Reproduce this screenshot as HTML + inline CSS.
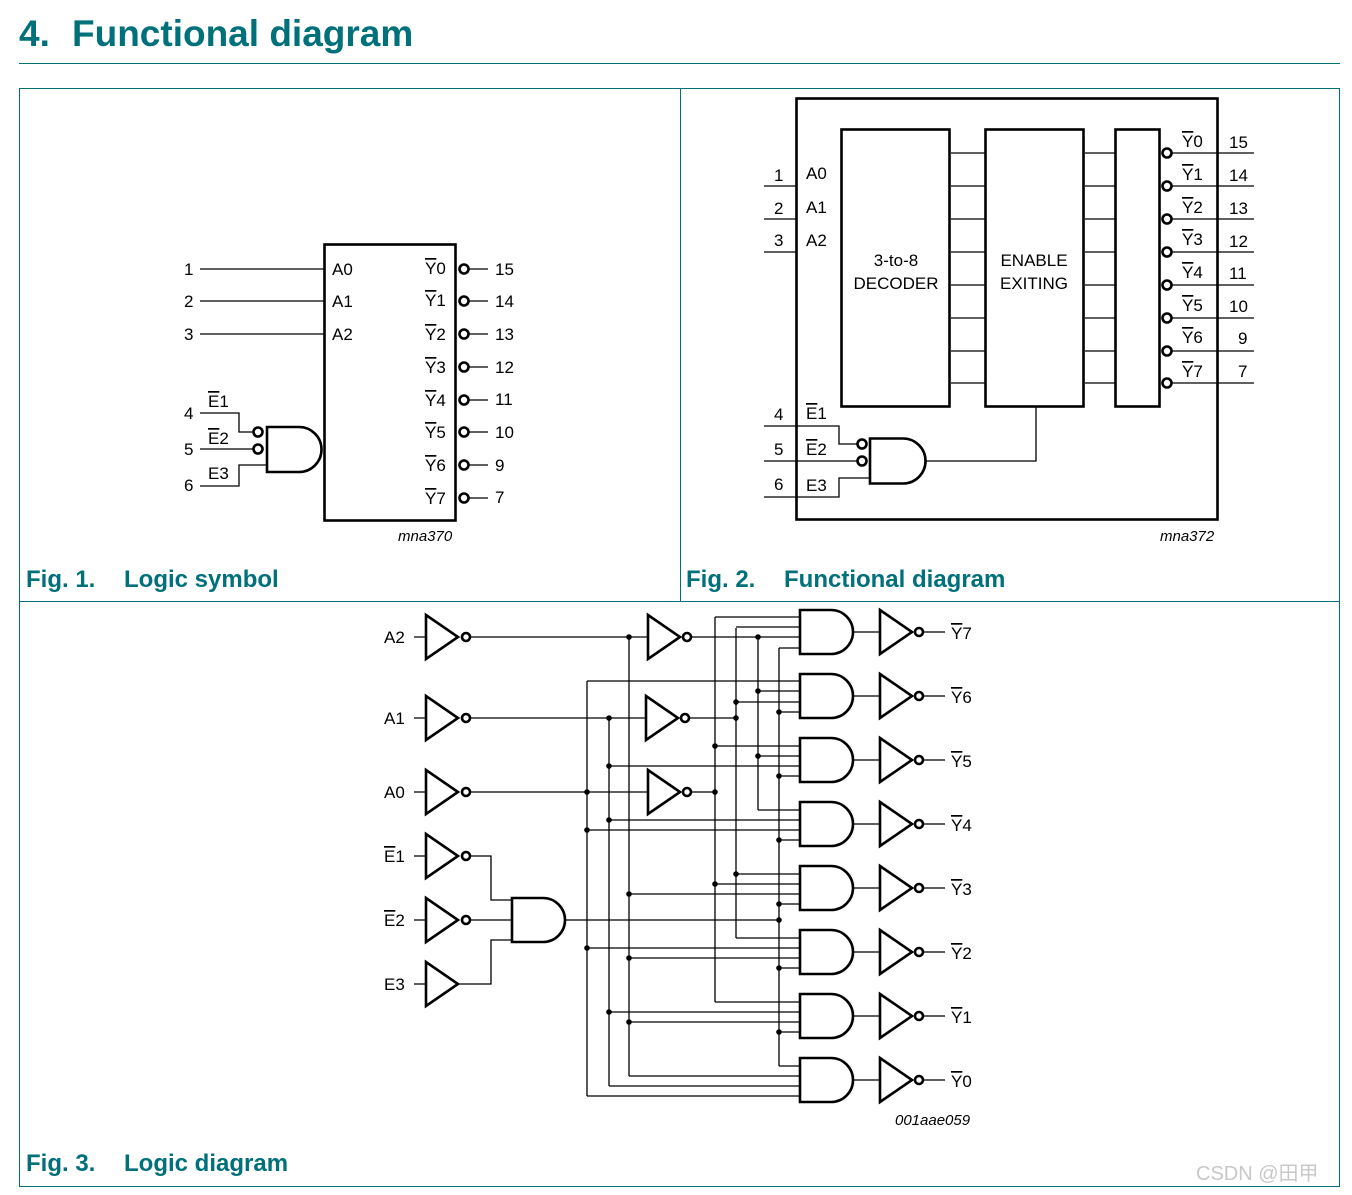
<!DOCTYPE html>
<html><head><meta charset="utf-8"><style>
body{margin:0;background:#fff;width:1352px;height:1195px;overflow:hidden}
svg{position:absolute;left:0;top:0}
text{font-family:"Liberation Sans",Arial,sans-serif;fill:#000}
.t{fill:#00707a;font-weight:bold}
.l{stroke:#000;stroke-width:1.3;fill:none}
.g{stroke:#000;stroke-width:2.6;fill:#fff}
.f{stroke:#00707a;stroke-width:1;fill:none}
</style></head><body>
<svg width="1352" height="1195" viewBox="0 0 1352 1195">
<text x="19" y="46" class="t" font-size="37">4.</text><text x="72" y="46" class="t" font-size="37">Functional diagram</text>
<line x1="19" y1="63.5" x2="1340" y2="63.5" class="f"/>
<rect x="19.5" y="88.5" width="1320" height="1098" class="f"/>
<line x1="680.5" y1="88" x2="680.5" y2="601" class="f"/>
<line x1="19" y1="601.5" x2="1340" y2="601.5" class="f"/>
<text x="26" y="587" class="t" font-size="24">Fig. 1.</text><text x="124" y="587" class="t" font-size="24">Logic symbol</text>
<text x="686" y="587" class="t" font-size="24">Fig. 2.</text><text x="784" y="587" class="t" font-size="24">Functional diagram</text>
<text x="26" y="1171" class="t" font-size="24">Fig. 3.</text><text x="124" y="1171" class="t" font-size="24">Logic diagram</text>

<!-- FIG 1 -->
<g font-size="17">
<rect x="324.5" y="244.5" width="131" height="276" class="g" fill="none"/>
<path class="l" d="M200 269H324M200 301H324M200 334H324"/>
<text x="184" y="275">1</text><text x="184" y="307">2</text><text x="184" y="340">3</text>
<text x="332" y="275">A0</text><text x="332" y="307">A1</text><text x="332" y="340">A2</text>
<g>
<circle cx="464" cy="269" r="4.5" class="g" stroke-width="2"/><line x1="469" y1="269" x2="488" y2="269" class="l"/><text x="425" y="274"><tspan text-decoration="overline">Y</tspan>0</text><text x="495" y="275">15</text>
<circle cx="464" cy="301" r="4.5" class="g" stroke-width="2"/><line x1="469" y1="301" x2="488" y2="301" class="l"/><text x="425" y="306"><tspan text-decoration="overline">Y</tspan>1</text><text x="495" y="307">14</text>
<circle cx="464" cy="334" r="4.5" class="g" stroke-width="2"/><line x1="469" y1="334" x2="488" y2="334" class="l"/><text x="425" y="340"><tspan text-decoration="overline">Y</tspan>2</text><text x="495" y="340">13</text>
<circle cx="464" cy="367" r="4.5" class="g" stroke-width="2"/><line x1="469" y1="367" x2="488" y2="367" class="l"/><text x="425" y="373"><tspan text-decoration="overline">Y</tspan>3</text><text x="495" y="373">12</text>
<circle cx="464" cy="400" r="4.5" class="g" stroke-width="2"/><line x1="469" y1="400" x2="488" y2="400" class="l"/><text x="425" y="406"><tspan text-decoration="overline">Y</tspan>4</text><text x="495" y="405">11</text>
<circle cx="464" cy="432" r="4.5" class="g" stroke-width="2"/><line x1="469" y1="432" x2="488" y2="432" class="l"/><text x="425" y="438"><tspan text-decoration="overline">Y</tspan>5</text><text x="495" y="438">10</text>
<circle cx="464" cy="465" r="4.5" class="g" stroke-width="2"/><line x1="469" y1="465" x2="488" y2="465" class="l"/><text x="425" y="471"><tspan text-decoration="overline">Y</tspan>6</text><text x="495" y="471">9</text>
<circle cx="464" cy="498" r="4.5" class="g" stroke-width="2"/><line x1="469" y1="498" x2="488" y2="498" class="l"/><text x="425" y="504"><tspan text-decoration="overline">Y</tspan>7</text><text x="495" y="503">7</text>
</g>
<path class="l" d="M200 413H239V432H254M200 449H254M200 486H239V465H267"/>
<path class="g" d="M267 427H299A22.5 22.5 0 0 1 299 472H267Z"/>
<circle cx="258" cy="432" r="4.5" class="g" stroke-width="2"/><circle cx="258" cy="449" r="4.5" class="g" stroke-width="2"/>
<text x="184" y="419">4</text><text x="184" y="455">5</text><text x="184" y="491">6</text>
<text x="208" y="407"><tspan text-decoration="overline">E</tspan>1</text>
<text x="208" y="444"><tspan text-decoration="overline">E</tspan>2</text>
<text x="208" y="479">E3</text>
<text x="398" y="541" font-size="15" font-style="italic">mna370</text>
</g>

<!-- FIG 2 -->
<g font-size="17">
<rect x="796.5" y="98.5" width="421" height="421" class="g" fill="none"/>
<rect x="841.5" y="129.5" width="108" height="277" class="g"/>
<rect x="985.5" y="129.5" width="98" height="277" class="g"/>
<rect x="1115.5" y="129.5" width="44" height="277" class="g"/>
<text x="896" y="266" text-anchor="middle">3-to-8</text><text x="896" y="289" text-anchor="middle">DECODER</text>
<text x="1034" y="266" text-anchor="middle">ENABLE</text><text x="1034" y="289" text-anchor="middle">EXITING</text>
<path class="l" d="M951 153H985M951 186H985M951 219H985M951 252H985M951 285H985M951 318H985M951 351H985M951 383H985M1085 153H1115M1085 186H1115M1085 219H1115M1085 252H1115M1085 285H1115M1085 318H1115M1085 351H1115M1085 383H1115"/>
<path class="l" d="M1172 153H1254M1172 186H1254M1172 219H1254M1172 252H1254M1172 285H1254M1172 318H1254M1172 351H1254M1172 383H1254"/>
<g class="g" stroke-width="2"><circle cx="1167" cy="153" r="4.5"/><circle cx="1167" cy="186" r="4.5"/><circle cx="1167" cy="219" r="4.5"/><circle cx="1167" cy="252" r="4.5"/><circle cx="1167" cy="285" r="4.5"/><circle cx="1167" cy="318" r="4.5"/><circle cx="1167" cy="351" r="4.5"/><circle cx="1167" cy="383" r="4.5"/></g>
<text x="1182" y="147"><tspan text-decoration="overline">Y</tspan>0</text><text x="1229" y="148">15</text>
<text x="1182" y="180"><tspan text-decoration="overline">Y</tspan>1</text><text x="1229" y="181">14</text>
<text x="1182" y="213"><tspan text-decoration="overline">Y</tspan>2</text><text x="1229" y="214">13</text>
<text x="1182" y="245"><tspan text-decoration="overline">Y</tspan>3</text><text x="1229" y="247">12</text>
<text x="1182" y="278"><tspan text-decoration="overline">Y</tspan>4</text><text x="1229" y="279">11</text>
<text x="1182" y="311"><tspan text-decoration="overline">Y</tspan>5</text><text x="1229" y="312">10</text>
<text x="1182" y="343"><tspan text-decoration="overline">Y</tspan>6</text><text x="1238" y="344">9</text>
<text x="1182" y="377"><tspan text-decoration="overline">Y</tspan>7</text><text x="1238" y="377">7</text>
<path class="l" d="M764 186H796M764 219H796M764 252H796"/>
<text x="774" y="181">1</text><text x="774" y="214">2</text><text x="774" y="246">3</text>
<text x="806" y="179">A0</text><text x="806" y="213">A1</text><text x="806" y="246">A2</text>
<path class="l" d="M764 426H839V444H857M764 461H857M764 497H839V478H870M926 461H1036V406"/>
<path class="g" d="M870 438.5H903A22.5 22.5 0 0 1 903 483.5H870Z"/>
<circle cx="862" cy="444" r="4.5" class="g" stroke-width="2"/><circle cx="862" cy="461" r="4.5" class="g" stroke-width="2"/>
<text x="774" y="420">4</text><text x="774" y="455">5</text><text x="774" y="490">6</text>
<text x="806" y="419"><tspan text-decoration="overline">E</tspan>1</text>
<text x="806" y="455"><tspan text-decoration="overline">E</tspan>2</text>
<text x="806" y="491">E3</text>
<text x="1160" y="541" font-size="15" font-style="italic">mna372</text>
</g>

<!-- FIG 3 -->
<g font-size="17">
<text x="384" y="643">A2</text><text x="384" y="724">A1</text><text x="384" y="798">A0</text>
<text x="384" y="862"><tspan text-decoration="overline">E</tspan>1</text>
<text x="384" y="926"><tspan text-decoration="overline">E</tspan>2</text>
<text x="384" y="990">E3</text>
<path class="l" d="M414 637H426M414 718H426M414 792H426M414 856H426M414 920H426M414 984H426"/>
<g class="g">
<path d="M426 615V659L458 637Z"/><path d="M426 696V740L458 718Z"/><path d="M426 770V814L458 792Z"/>
<path d="M426 834V878L458 856Z"/><path d="M426 898V942L458 920Z"/><path d="M426 962V1006L458 984Z"/>
<path d="M648 615V659L680 637Z"/><path d="M646 696V740L678 718Z"/><path d="M648 770V814L680 792Z"/>
</g>
<g class="g" stroke-width="2">
<circle cx="466" cy="637" r="4"/><circle cx="466" cy="718" r="4"/><circle cx="466" cy="792" r="4"/><circle cx="466" cy="856" r="4"/><circle cx="466" cy="920" r="4"/>
<circle cx="687" cy="637" r="4"/><circle cx="685" cy="718" r="4"/><circle cx="687" cy="792" r="4"/>
</g>
<path class="l" d="M470 637H648M470 718H646M470 792H648M691 637H800M689 718H736M691 792H715
M470 856H491V900H512M470 920H512M458 984H491V940H512M565 920H779
M587 681V1096M609 718V1086M629 637V1076M715 617V1002M736 628V938M758 637V810M779 648V1066
M715 617H800M736 627H800M779 648H800
M587 681H800M758 691H800M736 702H800M779 712H800
M715 746H800M758 756H800M609 766H800M779 776H800
M758 810H800M609 820H800M587 830H800M779 840H800
M736 874H800M715 884H800M629 894H800M779 904H800
M736 938H800M587 948H800M629 958H800M779 968H800
M715 1002H800M609 1012H800M629 1022H800M779 1032H800
M779 1066H800M629 1076H800M609 1086H800M587 1096H800"/>
<g fill="#000">
<circle cx="629" cy="637" r="2.8"/><circle cx="758" cy="637" r="2.8"/><circle cx="609" cy="718" r="2.8"/><circle cx="736" cy="718" r="2.8"/><circle cx="587" cy="792" r="2.8"/><circle cx="715" cy="792" r="2.8"/>
<circle cx="758" cy="691" r="2.8"/><circle cx="736" cy="702" r="2.8"/><circle cx="779" cy="712" r="2.8"/>
<circle cx="715" cy="746" r="2.8"/><circle cx="758" cy="756" r="2.8"/><circle cx="609" cy="766" r="2.8"/><circle cx="779" cy="776" r="2.8"/>
<circle cx="609" cy="820" r="2.8"/><circle cx="587" cy="830" r="2.8"/><circle cx="779" cy="840" r="2.8"/>
<circle cx="736" cy="874" r="2.8"/><circle cx="715" cy="884" r="2.8"/><circle cx="629" cy="894" r="2.8"/><circle cx="779" cy="904" r="2.8"/>
<circle cx="779" cy="920" r="2.8"/>
<circle cx="587" cy="948" r="2.8"/><circle cx="629" cy="958" r="2.8"/><circle cx="779" cy="968" r="2.8"/>
<circle cx="609" cy="1012" r="2.8"/><circle cx="629" cy="1022" r="2.8"/><circle cx="779" cy="1032" r="2.8"/>
</g>
<path class="g" d="M512 898H543A22 22 0 0 1 543 942H512Z"/>
<g class="g">
<path d="M800 610H831A22 22 0 0 1 831 654H800Z"/><path d="M800 674H831A22 22 0 0 1 831 718H800Z"/>
<path d="M800 738H831A22 22 0 0 1 831 782H800Z"/><path d="M800 802H831A22 22 0 0 1 831 846H800Z"/>
<path d="M800 866H831A22 22 0 0 1 831 910H800Z"/><path d="M800 930H831A22 22 0 0 1 831 974H800Z"/>
<path d="M800 994H831A22 22 0 0 1 831 1038H800Z"/><path d="M800 1058H831A22 22 0 0 1 831 1102H800Z"/>
<path d="M880 610V654L912 632Z"/><path d="M880 674V718L912 696Z"/><path d="M880 738V782L912 760Z"/><path d="M880 802V846L912 824Z"/>
<path d="M880 866V910L912 888Z"/><path d="M880 930V974L912 952Z"/><path d="M880 994V1038L912 1016Z"/><path d="M880 1058V1102L912 1080Z"/>
</g>
<g class="g" stroke-width="2">
<circle cx="919" cy="632" r="4"/><circle cx="919" cy="696" r="4"/><circle cx="919" cy="760" r="4"/><circle cx="919" cy="824" r="4"/>
<circle cx="919" cy="888" r="4"/><circle cx="919" cy="952" r="4"/><circle cx="919" cy="1016" r="4"/><circle cx="919" cy="1080" r="4"/>
</g>
<path class="l" d="M853 632H880M853 696H880M853 760H880M853 824H880M853 888H880M853 952H880M853 1016H880M853 1080H880
M923 632H945M923 696H945M923 760H945M923 824H945M923 888H945M923 952H945M923 1016H945M923 1080H945"/>
<text x="951" y="639"><tspan text-decoration="overline">Y</tspan>7</text>
<text x="951" y="703"><tspan text-decoration="overline">Y</tspan>6</text>
<text x="951" y="767"><tspan text-decoration="overline">Y</tspan>5</text>
<text x="951" y="831"><tspan text-decoration="overline">Y</tspan>4</text>
<text x="951" y="895"><tspan text-decoration="overline">Y</tspan>3</text>
<text x="951" y="959"><tspan text-decoration="overline">Y</tspan>2</text>
<text x="951" y="1023"><tspan text-decoration="overline">Y</tspan>1</text>
<text x="951" y="1087"><tspan text-decoration="overline">Y</tspan>0</text>
<text x="895" y="1125" font-size="15" font-style="italic">001aae059</text>
</g>
<text x="1196" y="1180" font-size="20" style="fill:#c8c8c8">CSDN @田甲</text>
</svg>
</body></html>
